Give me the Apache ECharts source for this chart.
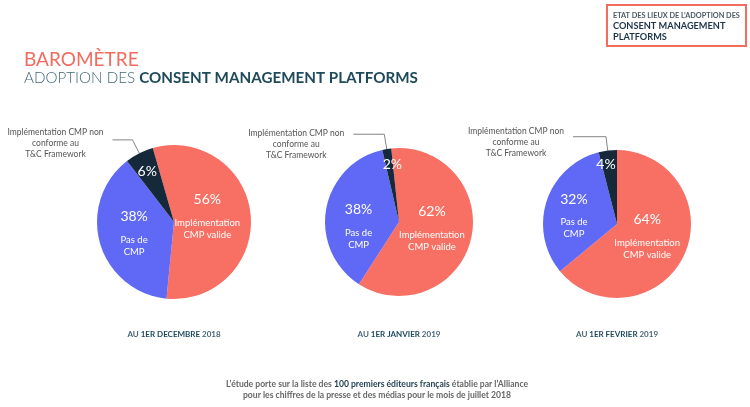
<!DOCTYPE html>
<html><head><meta charset="utf-8">
<script src="https://cdn.jsdelivr.net/npm/echarts@6/dist/echarts.min.js"></script>
<style>html,body{margin:0;padding:0;background:#fff}#c{width:750px;height:407px}</style>
</head><body><div id="c"></div>
<script>
// ---- data ----
const categories = ['Implémentation CMP valide', 'Pas de CMP', 'Implémentation CMP non conforme au T&C Framework'];
const insideNames = [['Implémentation', 'CMP valide'], ['Pas de', 'CMP'], []];
const annotationLines = ['Implémentation CMP non', 'conforme au', 'T&C Framework'];
const valuesDec2018 = [56, 38, 6];
const valuesJan2019 = [62, 38, 2];
const valuesFeb2019 = [64, 32, 4];
const periodPrefix = ['AU', 'AU', 'AU'];
const periodBold = ['1ER DECEMBRE', '1ER JANVIER', '1ER FEVRIER'];
const periodYear = ['2018', '2019', '2019'];
const mainTitle = 'BAROMÈTRE';
const subTitleLight = 'ADOPTION DES ';
const subTitleBold = 'CONSENT MANAGEMENT PLATFORMS';
const boxLines = ['ETAT DES LIEUX DE L\u2019ADOPTION DES', 'CONSENT MANAGEMENT', 'PLATFORMS'];
const footLine1 = ['L\u2019étude porte sur la liste des ', '100 premiers éditeurs français', ' établie par l\u2019Alliance'];
const footLine2 = 'pour les chiffres de la presse et des médias pour le mois de juillet 2018';

// ---- styling / layout ----
const colors = ['#F86F63', '#6068F6', '#16293B'];
const FONT = 'Lato, "Noto Sans", sans-serif';
const pies = [
  { values: valuesDec2018, center: [174, 222], r: 77, start: 106, len: 15, len2: 20, annShift: 6,
    shifts: [[-8, -2], [0, 0], [-8, -13]] },
  { values: valuesJan2019, center: [399, 222], r: 74, start: 96, len: 15, len2: 31, annShift: 20,
    shifts: [[-6, -3], [-1, 11], [0, -18]] },
  { values: valuesFeb2019, center: [617, 224], r: 74, start: 90, len: 14, len2: 33, annShift: 12,
    shifts: [[-6, -5], [-5, 4], [-6, -20]] }
];

const chart = echarts.init(document.getElementById('c'), null, { renderer: 'canvas' });

const series = [];
pies.forEach((p, k) => {
  // visible slices with inside labels
  series.push({
    type: 'pie', silent: true, clockwise: true,
    center: p.center, radius: [0, p.r], startAngle: p.start,
    avoidLabelOverlap: false,
    itemStyle: { borderWidth: 0 },
    label: {
      show: true, position: 'inside', fontFamily: FONT, color: '#fff',
      formatter: (prm) => {
        const names = insideNames[prm.dataIndex];
        let s = '{p|' + prm.value + '%}';
        if (names.length) s += '\n{g|}\n' + names.map(n => '{n|' + n + '}').join('\n');
        return s;
      },
      rich: {
        p: { fontSize: 14, color: '#fff', fontFamily: FONT, lineHeight: 16 },
        g: { fontSize: 6, lineHeight: 9 },
        n: { fontSize: 9.5, color: '#fff', fontFamily: FONT, lineHeight: 12 }
      }
    },
    labelLine: { show: false },
    labelLayout: (prm) => ({ dx: p.shifts[prm.dataIndex][0], dy: p.shifts[prm.dataIndex][1] }),
    data: p.values.map((v, i) => ({ name: categories[i], value: v, itemStyle: { color: colors[i] } }))
  });
  // annotation for the non-compliant slice
  series.push({
    type: 'pie', silent: true, clockwise: true,
    center: p.center, radius: [0, p.r], startAngle: p.start,
    avoidLabelOverlap: false,
    itemStyle: { color: 'rgba(0,0,0,0)' },
    label: { show: false },
    labelLine: { show: false },
    data: p.values.map((v, i) => {
      const d = { name: categories[i], value: v };
      if (i === 2) {
        d.label = {
          show: true, position: 'outside', distanceToLabelLine: 5,
          formatter: '{e|}\n' + annotationLines.map(t => '{a|' + t + '}').join('\n'),
          rich: {
            e: { fontSize: 1, lineHeight: p.annShift },
            a: { width: 104, align: 'center', fontSize: 8.5, lineHeight: 11, color: '#555', fontFamily: FONT }
          }
        };
        d.labelLine = { show: true, length: p.len, length2: p.len2, smooth: false,
          lineStyle: { color: '#666', width: 0.8 } };
      }
      return d;
    })
  });
});

const titles = [
  { text: mainTitle, left: 24, top: 50, padding: 0,
    textStyle: { color: '#F36B5E', fontSize: 19, fontWeight: 'normal', fontFamily: FONT } },
  { text: '{l|' + subTitleLight + '}{b|' + subTitleBold + '}', left: 24, top: 71, padding: 0,
    textStyle: { rich: {
      l: { color: '#3F6677', fontSize: 15.2, fontWeight: 300, fontFamily: FONT },
      b: { color: '#1F4A5C', fontSize: 15.2, fontWeight: 'bold', fontFamily: FONT } } } },
  { text: '{s|' + boxLines[0] + '}\n{b|' + boxLines[1] + '}\n{b|' + boxLines[2] + '}',
    left: 607, top: 3, padding: [7, 6, 4, 6], borderColor: '#F36B5E', borderWidth: 2,
    textStyle: { rich: {
      s: { fontSize: 7.3, color: '#4B5A66', fontFamily: FONT, lineHeight: 11, width: 126 },
      b: { fontSize: 9.2, color: '#1D3447', fontWeight: 'bold', fontFamily: FONT, lineHeight: 11, width: 126 } } } },
  { text: '{n|' + footLine1[0] + '}{b|' + footLine1[1] + '}{n|' + footLine1[2] + '}\n{n|' + footLine2 + '}',
    left: 377, top: 379, padding: 0, textAlign: 'center',
    textStyle: { align: 'center', rich: {
      n: { fontSize: 8.6, color: '#666', fontFamily: FONT, lineHeight: 10.5 },
      b: { fontSize: 8.6, color: '#1F3E50', fontWeight: 'bold', fontFamily: FONT, lineHeight: 10.5 } } } }
];
pies.forEach((p, k) => {
  titles.push({
    text: '{l|' + periodPrefix[k] + ' }{b|' + periodBold[k] + '}{l| ' + periodYear[k] + '}',
    left: p.center[0], top: 330, padding: 0, textAlign: 'center',
    textStyle: { rich: {
      l: { fontSize: 8, color: '#4A6574', fontFamily: FONT },
      b: { fontSize: 8, color: '#1F4A5C', fontWeight: 'bold', fontFamily: FONT } } }
  });
});

chart.setOption({
  animation: false,
  backgroundColor: '#fff',
  title: titles,
  series: series
});
</script>
</body></html>
